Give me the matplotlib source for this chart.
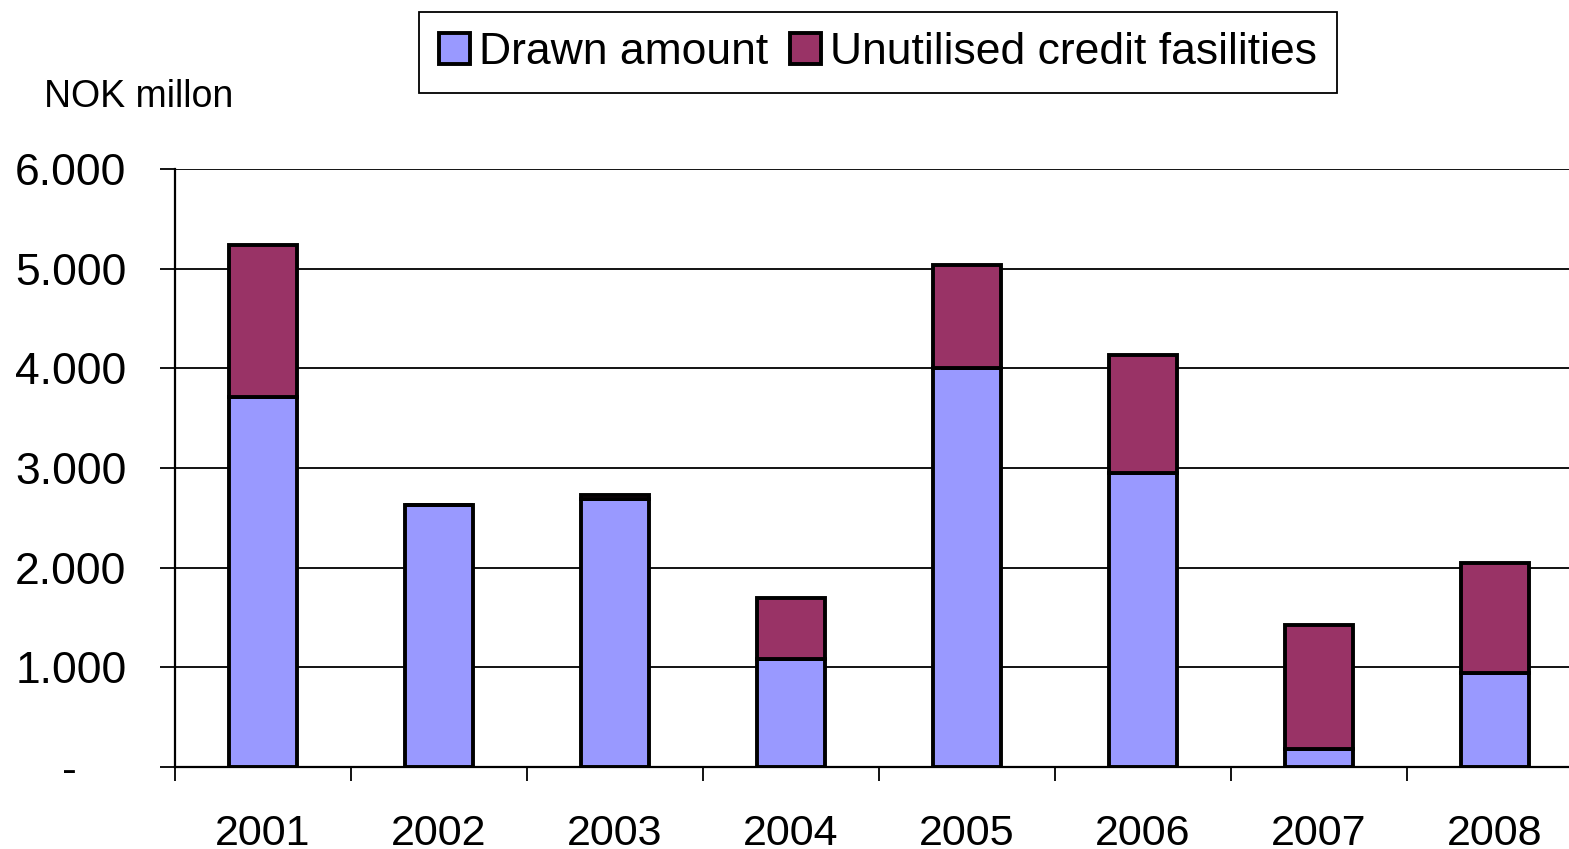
import numpy as np
import matplotlib.pyplot as plt
from matplotlib.patches import Patch
from matplotlib.transforms import ScaledTranslation

plt.rcParams['font.family'] = ['Liberation Sans', 'DejaVu Sans']

# data (NOK millon)
years = ['2001', '2002', '2003', '2004', '2005', '2006', '2007', '2008']
drawn = [3710, 2630, 2690, 1080, 4000, 2950, 180, 940]
unutilised = [1530, 0, 40, 620, 1040, 1180, 1245, 1110]
yticks = [0, 1000, 2000, 3000, 4000, 5000, 6000]
ylabels = ['-', '1.000', '2.000', '3.000', '4.000', '5.000', '6.000']

c_drawn = '#9999FF'
c_unut = '#993366'

fig = plt.figure(figsize=(15.69, 8.49), dpi=100)
ax = fig.add_axes([175 / 1569, 1 - 767 / 849, 1408 / 1569, 598 / 849])

x = np.arange(len(years))
w = 0.39
ax.bar(x, drawn, w, color=c_drawn, edgecolor='black', linewidth=2.8, zorder=3)
ax.bar(x, unutilised, w, bottom=drawn, color=c_unut, edgecolor='black',
       linewidth=2.8, zorder=3)

ax.set_xlim(-0.5, 7.5)
ax.set_ylim(0, 6000)

# gridlines
ax.yaxis.grid(True, color='black', linewidth=1.3)
ax.set_axisbelow(True)

ax.set_yticks(yticks)
ax.set_yticklabels(ylabels, fontsize=32)
ax.tick_params(axis='y', length=11, width=1.3, pad=24)
# the zero label "-" sits further left
zero_lbl = ax.get_yticklabels()[0]
zero_lbl.set_transform(zero_lbl.get_transform() +
                       ScaledTranslation(-0.5, 0, fig.dpi_scale_trans))

# ticks between categories, labels in the middle
ax.set_xticks(np.arange(-0.5, 8, 1))
ax.set_xticklabels([])
ax.set_xticks(x, minor=True)
ax.set_xticklabels(years, minor=True, fontsize=31)
ax.tick_params(axis='x', which='major', length=10, width=1.3, direction='out')
ax.tick_params(axis='x', which='minor', length=0, pad=34)

for s in ['top', 'right']:
    ax.spines[s].set_visible(False)
ax.spines['left'].set_linewidth(1.6)
ax.spines['bottom'].set_linewidth(1.6)
ax.spines['left'].set_zorder(4)
ax.spines['bottom'].set_zorder(4)

fig.text(44 / 1569, 1 - 97 / 849, 'NOK millon', fontsize=27, va='center', ha='left')

handles = [Patch(facecolor=c_drawn, edgecolor='black', linewidth=2.8),
           Patch(facecolor=c_unut, edgecolor='black', linewidth=2.8)]
leg = fig.legend(handles, ['Drawn amount', 'Unutilised credit fasilities'],
                 loc='upper center', bbox_to_anchor=(878 / 1569, 1 - 12 / 849),
                 ncol=2, fontsize=32, fancybox=False, framealpha=1,
                 edgecolor='black', handlelength=0.7, handleheight=0.7,
                 handletextpad=0.2, columnspacing=0.5, borderpad=0.45,
                 borderaxespad=0)
leg.get_frame().set_linewidth(1.3)

fig.savefig('out.png', dpi=100)
